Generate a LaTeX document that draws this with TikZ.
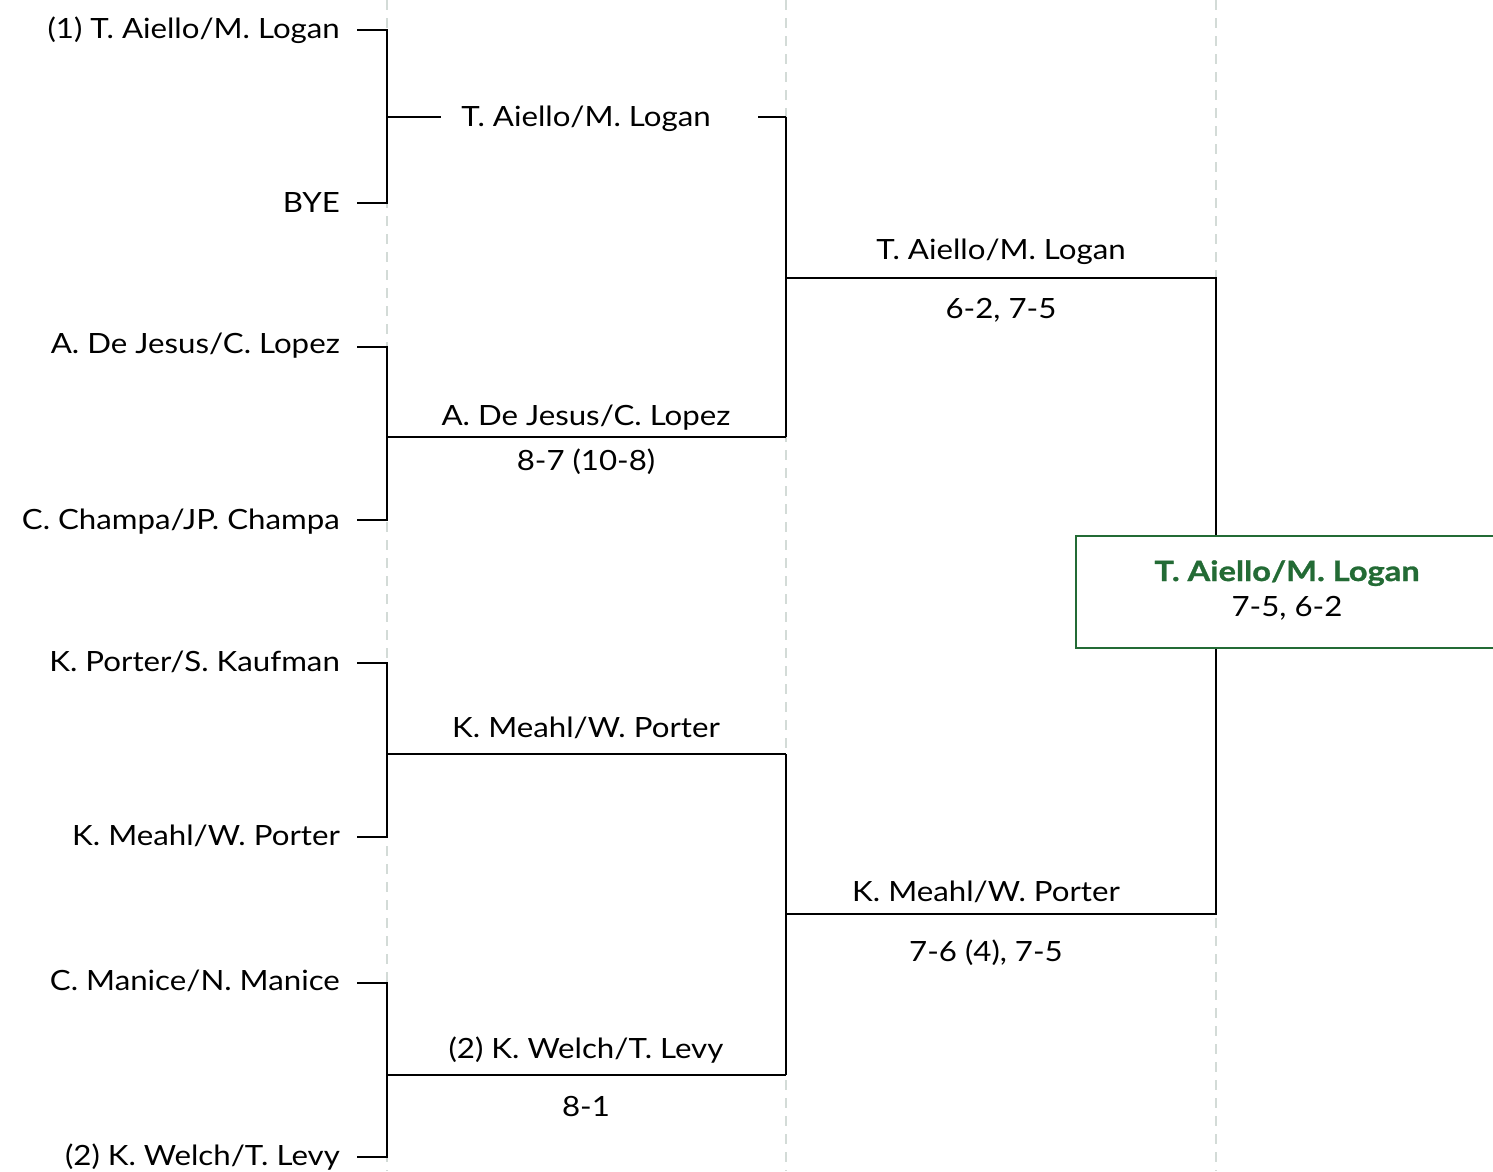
\documentclass[tikz,border=0pt]{standalone}
\usepackage{fontspec}
\setmainfont{Lato}[FakeStretch=1.12,BoldFeatures={FakeStretch=1.17,FakeBold=1}]
\definecolor{win}{HTML}{236B35}
\definecolor{guide}{HTML}{D3DBD7}
\begin{document}
\begin{tikzpicture}[x=1bp,y=-1bp,
  every node/.style={inner sep=0pt,font=\fontsize{28}{32}\selectfont},
  team/.style={anchor=base east},
  mid/.style={anchor=base},
  wire/.style={line width=2bp,black},
  guideline/.style={line width=2bp,guide,dash pattern=on 10bp off 8bp}]
\useasboundingbox (0,0) rectangle (1493,1171);
% guides
\foreach \gx in {387,786,1216}{\draw[guideline] (\gx,0) -- (\gx,1171);}
% round 1 entries
\node[team] (a1) at (340,38) {(1) T. Aiello/M. Logan};
\node[team] (a2) at (340,212) {BYE};
\node[team] (a3) at (340,353) {A. De Jesus/C. Lopez};
\node[team] (a4) at (340,529) {C. Champa/JP. Champa};
\node[team] (a5) at (340,671) {K. Porter/S. Kaufman};
\node[team] (a6) at (340,845) {K. Meahl/W. Porter};
\node[team] (a7) at (340,990) {C. Manice/N. Manice};
\node[team] (a8) at (340,1165) {(2) K. Welch/T. Levy};
\foreach \i/\yy in {1/30,2/203,3/347,4/520,5/663,6/837,7/983,8/1157}{
  \coordinate (s\i) at (357,\yy);
  \coordinate (v\i) at (387,\yy);
}
% round 2
\node[mid] (b1) at (586,126) {T. Aiello/M. Logan};
\node[mid] (b2) at (586,425) {A. De Jesus/C. Lopez};
\node[mid] (b2s) at (586,470) {8-7 (10-8)};
\node[mid] (b3) at (586,737) {K. Meahl/W. Porter};
\node[mid] (b4) at (586,1058) {(2) K. Welch/T. Levy};
\node[mid] (b4s) at (586,1116) {8-1};
\coordinate (m1) at (387,117);
\coordinate (m1a) at (441,117);
\coordinate (m1b) at (758,117);
\coordinate (r1) at (786,117);
\coordinate (m2) at (387,437);
\coordinate (r2) at (786,437);
\coordinate (m3) at (387,754);
\coordinate (r3) at (786,754);
\coordinate (m4) at (387,1075);
\coordinate (r4) at (786,1075);
% round 3
\node[mid] (c1) at (1001,259) {T. Aiello/M. Logan};
\node[mid] (c1s) at (1001,318) {6-2, 7-5};
\node[mid] (c2) at (986,901) {K. Meahl/W. Porter};
\node[mid] (c2s) at (986,961) {7-6 (4), 7-5};
\coordinate (n1) at (786,278);
\coordinate (q1) at (1216,278);
\coordinate (n2) at (786,914);
\coordinate (q2) at (1216,914);
% final
\node[draw=win,line width=2bp,fill=white,minimum width=430bp,minimum height=112bp,anchor=north west] (fin) at (1075,535) {};
\node[mid,font=\fontsize{28}{32}\selectfont\bfseries,text=win] (fw) at (1287,581) {T. Aiello/M. Logan};
\node[mid] (fs) at (1287,616) {7-5, 6-2};
% wires round 1
\draw[wire] (s1) -- (v1) -- (v2) -- (s2);
\draw[wire] (s3) -- (v3) -- (v4) -- (s4);
\draw[wire] (s5) -- (v5) -- (v6) -- (s6);
\draw[wire] (s7) -- (v7) -- (v8) -- (s8);
\draw[wire] (m1) -- (m1a);
\draw[wire] (m1b) -- (r1);
\draw[wire] (m2) -- (r2);
\draw[wire] (m3) -- (r3);
\draw[wire] (m4) -- (r4);
% wires round 2
\draw[wire] (r1) -- (r2);
\draw[wire] (r3) -- (r4);
\draw[wire] (n1) -- (q1) -- (q1 |- fin.north);
\draw[wire] (n2) -- (q2) -- (q2 |- fin.south);
\end{tikzpicture}
\end{document}
